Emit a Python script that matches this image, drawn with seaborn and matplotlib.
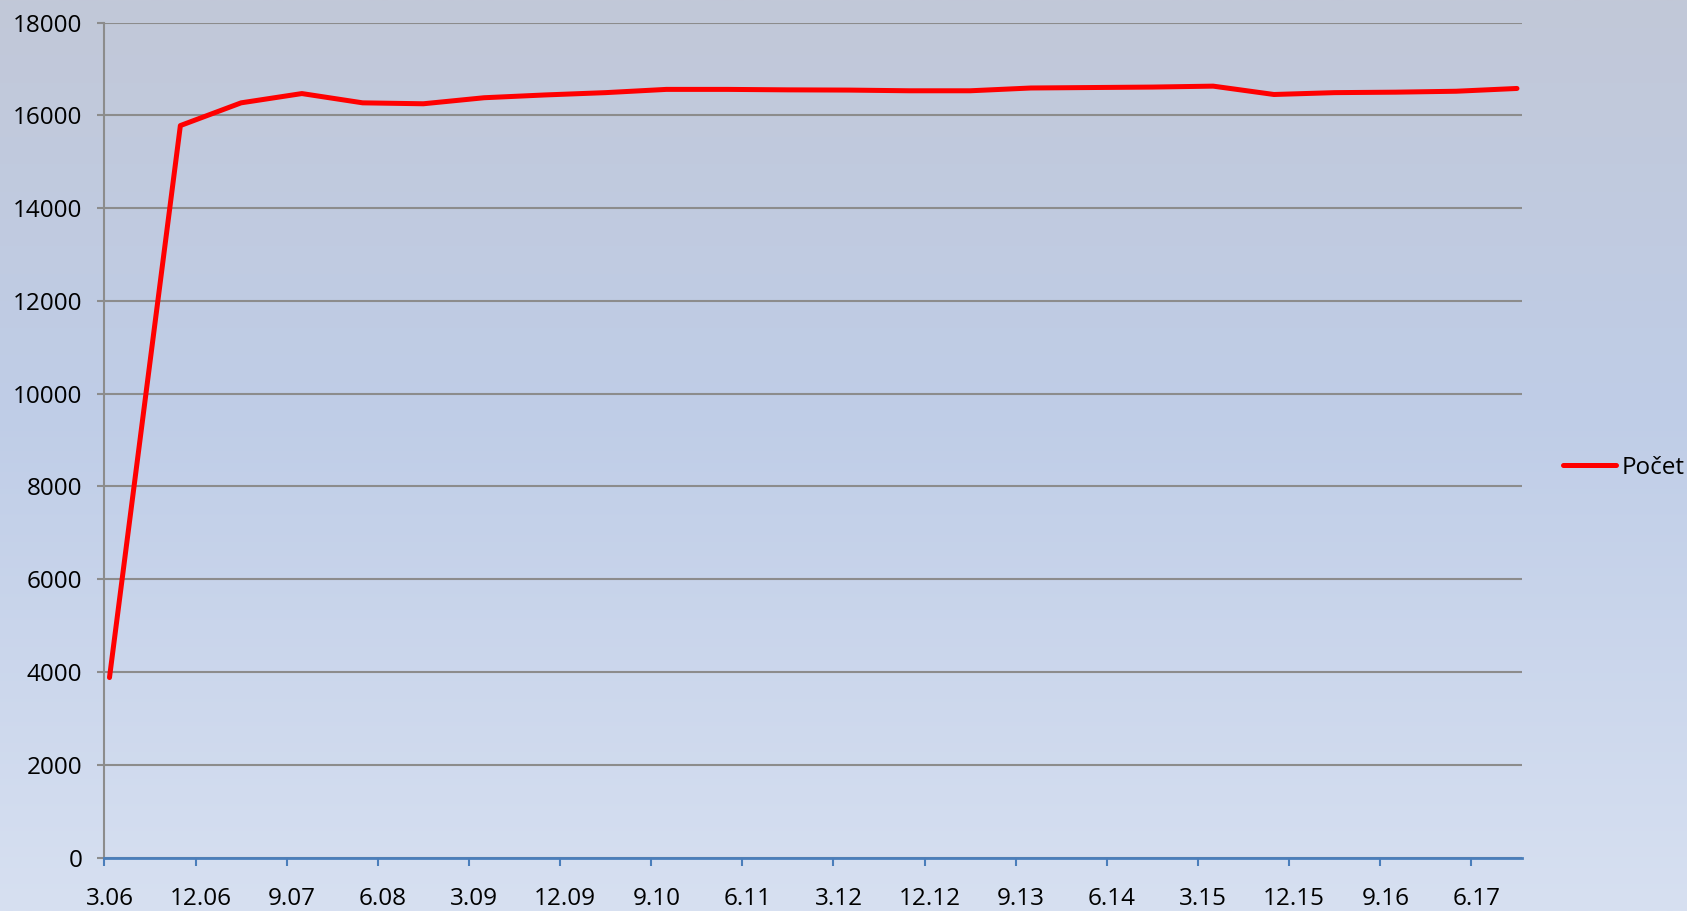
import matplotlib
matplotlib.use("Agg")
import matplotlib.pyplot as plt
import numpy as np
import pandas as pd
import seaborn as sns

periods = [
    "2006-03", "2006-10", "2007-04", "2007-10", "2008-04", "2008-10",
    "2009-04", "2009-10", "2010-04", "2010-10", "2011-04", "2011-10",
    "2012-04", "2012-10", "2013-04", "2013-10", "2014-04", "2014-10",
    "2015-04", "2015-10", "2016-04", "2016-10", "2017-04", "2017-10",
]
counts = [
    3880, 15780, 16270, 16470, 16270, 16250,
    16380, 16440, 16490, 16560, 16560, 16550,
    16545, 16530, 16530, 16590, 16600, 16610,
    16630, 16450, 16490, 16500, 16520, 16580,
]
tick_labels = [
    "3.06", "12.06", "9.07", "6.08", "3.09", "12.09", "9.10", "6.11",
    "3.12", "12.12", "9.13", "6.14", "3.15", "12.15", "9.16", "6.17",
]
series_name = "Počet"

START = pd.Period("2006-03", freq="M")
TICK_STEP = 9      # months between category labels
AXIS_MONTHS = 140  # month slots shown on the date axis

df = pd.DataFrame({"period": periods, "count": counts})
# Excel date axis: each month is a slot, points sit in the middle of their slot
df["month"] = [(pd.Period(p, freq="M") - START).n + 0.5 for p in df["period"]]

fig = plt.figure(figsize=(16.87, 9.11), dpi=100)
plt.rcParams["font.family"] = ["Open Sans", "DejaVu Sans"]

# gradient chart-area fill
top = np.array([194, 200, 216]) / 255
mid = np.array([191, 205, 231]) / 255
bot = np.array([215, 224, 241]) / 255
t = np.linspace(0, 1, 400)[:, None]
grad = np.where(t < 0.45, top + (mid - top) * (t / 0.45), mid + (bot - mid) * ((t - 0.45) / 0.55))
bg = fig.add_axes([0, 0, 1, 1], zorder=0)
bg.imshow(grad[:, None, :], aspect="auto", extent=[0, 1, 0, 1])
bg.axis("off")

ax = fig.add_axes([0.0619, 0.0587, 0.8403, 0.9165], zorder=1)
ax.patch.set_alpha(0)

sns.lineplot(data=df, x="month", y="count", color="#FF0000", lw=3.6,
             solid_capstyle="round", label=series_name, ax=ax)

ax.set_xlim(0, AXIS_MONTHS)
ax.set_ylim(0, 18000)
ax.set_yticks(np.arange(0, 18001, 2000))
ax.set_xlabel("")
ax.set_ylabel("")

grid_col = "#8C8C8C"
axis_blue = "#4A7EBB"
ax.yaxis.grid(True, color=grid_col, lw=1.5)
ax.xaxis.grid(False)
ax.set_axisbelow(True)

for side in ["top", "right"]:
    ax.spines[side].set_visible(False)
ax.spines["left"].set_color(grid_col)
ax.spines["left"].set_linewidth(1.5)
ax.spines["bottom"].set_color(axis_blue)
ax.spines["bottom"].set_linewidth(2)

ax.tick_params(axis="y", colors=grid_col, length=5, width=1.5, pad=11,
               labelsize=17.5, labelcolor="black")

# tick marks on slot boundaries, labels in the middle of the slot
major = np.arange(0, len(tick_labels)) * TICK_STEP
ax.set_xticks(major)
ax.set_xticklabels([])
ax.set_xticks(major + 0.5, minor=True)
ax.set_xticklabels(tick_labels, minor=True)
ax.tick_params(axis="x", which="major", colors=axis_blue, length=6, width=1.5)
ax.tick_params(axis="x", which="minor", length=0, pad=21, labelsize=17.5,
               labelcolor="black")

ax.legend(loc="center left", bbox_to_anchor=(0.9265, 0.4863),
          bbox_transform=fig.transFigure, frameon=False, fontsize=17.5,
          handlelength=2.2, handletextpad=0.2, borderpad=0, borderaxespad=0)

fig.savefig("out.png", dpi=100)
